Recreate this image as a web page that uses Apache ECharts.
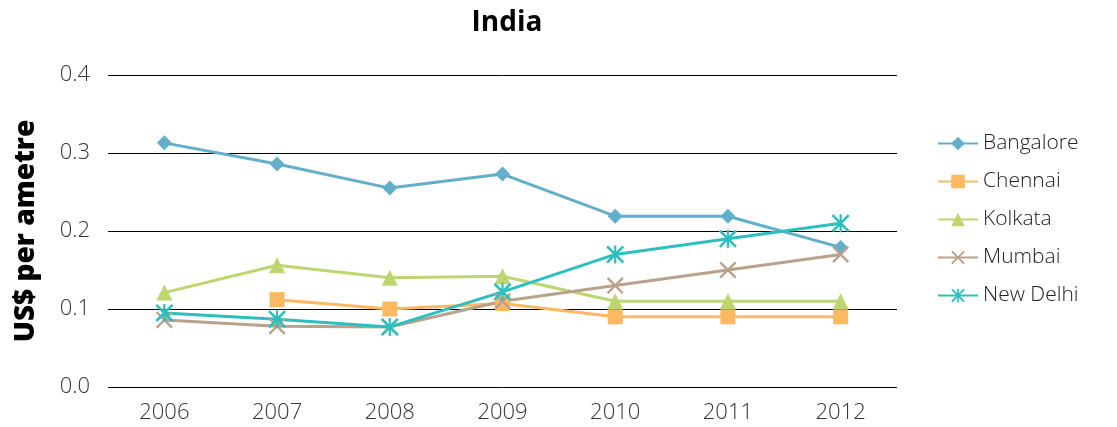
<!DOCTYPE html>
<html><head><meta charset="utf-8">
<script src="https://cdn.jsdelivr.net/npm/echarts@6/dist/echarts.min.js"></script>
<style>html,body{margin:0;padding:0;background:#fff}#c{width:1117px;height:427px}</style>
</head><body><div id="c"></div>
<script>
const categories = ['2006','2007','2008','2009','2010','2011','2012'];
const bangalore = [0.313,0.286,0.255,0.273,0.219,0.219,0.179];
const chennai   = [null,0.112,0.100,0.107,0.090,0.090,0.090];
const kolkata   = [0.121,0.156,0.140,0.142,0.110,0.110,0.110];
const mumbai    = [0.086,0.078,0.077,0.110,0.130,0.150,0.170];
const newDelhi  = [0.095,0.087,0.077,0.122,0.170,0.190,0.210];
const yTicks = ['0.0','0.1','0.2','0.3','0.4'];

const XPATH = 'path://M0,10L10,0L100,90L90,100Z M90,0L100,10L10,100L0,90Z';
const STAR = 'path://M0,10L10,0L100,90L90,100Z M90,0L100,10L10,100L0,90Z M44,0L56,0L56,100L44,100Z';

function s(name, data, color, symbol, size) {
  return {
    name, type: 'line', data, symbol, symbolSize: size,
    showAllSymbol: true, connectNulls: false,
    lineStyle: { color, width: 3 },
    itemStyle: { color },
    emphasis: { disabled: true }
  };
}
const chart = echarts.init(document.getElementById('c'));
chart.setOption({
  animation: false,
  title: { text: 'India', left: 502, top: 4, textAlign: 'center',
    textStyle: { fontFamily: 'Open Sans', fontWeight: 'bold', fontSize: 28, color: '#000' } },
  grid: { left: 108, right: 220, top: 75, bottom: 40 },
  legend: {
    orient: 'vertical', left: 932, top: 128, itemGap: 17, itemWidth: 40, itemHeight: 17,
    textStyle: { fontFamily: 'Open Sans', fontWeight: 300, fontSize: 21, color: '#222' },
    data: ['Bangalore','Chennai','Kolkata','Mumbai','New Delhi']
  },
  xAxis: {
    type: 'category', data: categories, boundaryGap: true,
    axisLine: { show: false }, axisTick: { show: false },
    axisLabel: { fontFamily: 'Open Sans', fontWeight: 300, fontSize: 22, color: '#333', margin: 15 }
  },
  yAxis: {
    type: 'value', min: 0, max: 0.4, interval: 0.1,
    name: 'US$ per ametre', nameLocation: 'middle', nameGap: 68, nameRotate: 90,
    nameTextStyle: { fontFamily: 'Open Sans', fontWeight: 800, fontSize: 28, color: '#000' },
    axisLine: { show: false }, axisTick: { show: false },
    splitLine: { lineStyle: { color: '#000', width: 1 } },
    axisLabel: { fontFamily: 'Open Sans', fontWeight: 300, fontSize: 22, color: '#333', margin: 18,
      formatter: v => yTicks[Math.round(v * 10)] }
  },
  series: [
    s('Bangalore', bangalore, '#61afca', 'diamond', 15),
    s('Chennai', chennai, '#fdb862', 'rect', 15),
    s('Kolkata', kolkata, '#bdd670', 'triangle', 16),
    s('Mumbai', mumbai, '#b9a18b', XPATH, 17),
    s('New Delhi', newDelhi, '#2bbfbf', STAR, 18)
  ]
});
</script></body></html>
